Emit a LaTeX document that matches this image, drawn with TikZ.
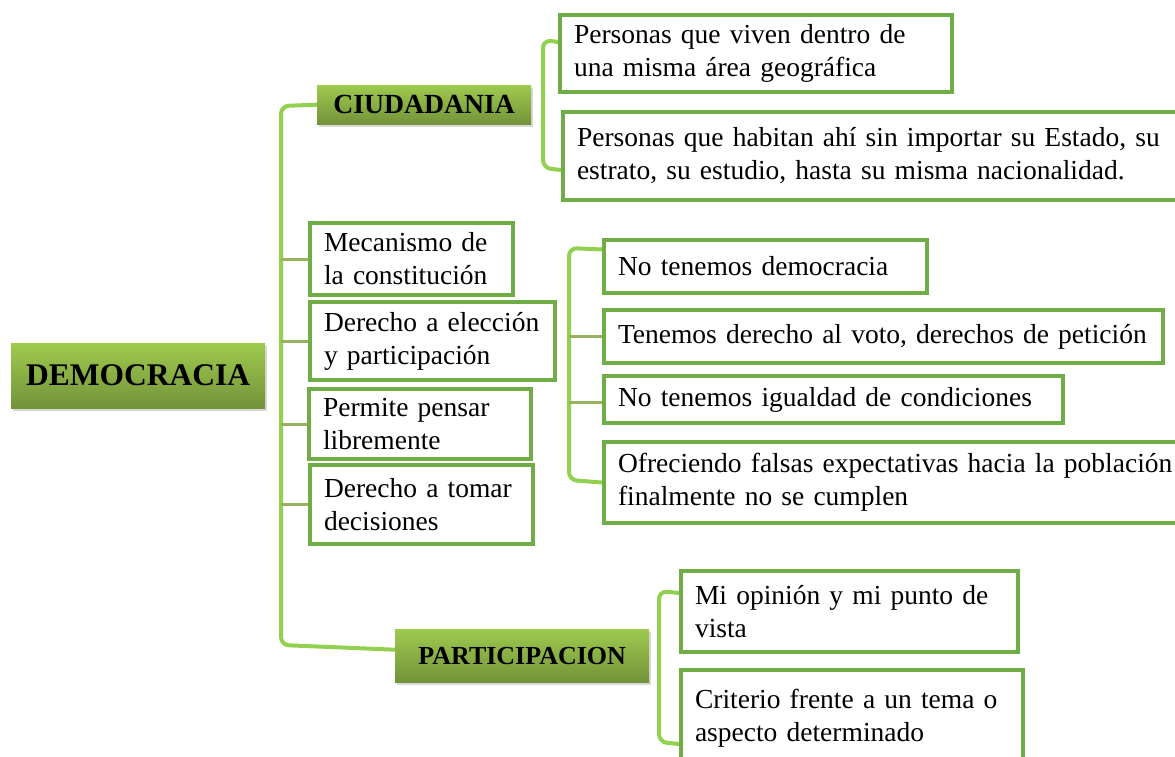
\documentclass[tikz,border=0pt]{standalone}
\usepackage{fontspec}
\setmainfont{Liberation Serif}
\usetikzlibrary{shadows}
\definecolor{boxgreen}{RGB}{112,173,71}
\definecolor{linegreen}{RGB}{146,208,80}
\definecolor{stubgreen}{RGB}{150,178,92}
\definecolor{gradtop}{RGB}{158,202,78}
\definecolor{gradbot}{RGB}{116,146,58}
\pgfdeclarelayer{background}
\pgfsetlayers{background,main}
\begin{document}
\begin{tikzpicture}[x=1pt,y=-1pt,
  txtbox/.style={draw=boxgreen,line width=4pt,fill=white,anchor=north west,
    inner xsep=14pt,inner ysep=0pt,align=left,
    font=\fontsize{27.5}{33}\selectfont},
  titlebox/.style={anchor=north west,inner sep=0pt,top color=gradtop,bottom color=gradbot,
    drop shadow={shadow xshift=2pt,shadow yshift=-3pt,opacity=0.3}},
  trunk/.style={draw=linegreen,line width=4pt,rounded corners=8pt},
  stub/.style={draw=stubgreen,line width=3pt}]
\useasboundingbox (0,0) rectangle (1175,757);
\clip (0,0) rectangle (1175,757);

% title boxes
\node[titlebox,minimum width=254pt,minimum height=65pt,font=\fontsize{31.5}{36}\selectfont\bfseries] (demo) at (11,343) {DEMOCRACIA};
\node[titlebox,minimum width=214pt,minimum height=39pt,font=\fontsize{27.7}{32}\selectfont\bfseries] (ciud) at (317,85) {CIUDADANIA};
\node[titlebox,minimum width=254pt,minimum height=53pt,font=\fontsize{26}{30}\selectfont\bfseries] (part) at (395,629) {PARTICIPACION};

% ciudadania children
\node[txtbox,text width=364pt,minimum height=77pt] (b1) at (558,13) {Personas que viven dentro de\\una misma área geográfica};
\node[txtbox,text width=596pt,minimum height=88pt] (b2) at (561,110) {Personas que habitan ahí sin importar su Estado, su\\estrato, su estudio, hasta su misma nacionalidad.};

% trunk children
\node[txtbox,text width=175pt,minimum height=72pt] (m1) at (308,221) {Mecanismo de\\la constitución};
\node[txtbox,text width=217pt,minimum height=78pt] (m2) at (308,300) {Derecho a elección\\y participación};
\node[txtbox,text width=194pt,minimum height=70pt] (m3) at (307,387) {Permite pensar\\libremente};
\node[txtbox,text width=195pt,minimum height=79pt] (m4) at (308,463) {Derecho a tomar\\decisiones};

% middle group
\node[txtbox,text width=295pt,minimum height=53pt] (n1) at (602,238) {No tenemos democracia};
\node[txtbox,text width=531pt,minimum height=53pt] (n2) at (602,308) {Tenemos derecho al voto, derechos de petición};
\node[txtbox,text width=431pt,minimum height=47pt] (n3) at (602,374) {No tenemos igualdad de condiciones};
\node[txtbox,text width=555pt,minimum height=81pt] (n4) at (602,440) {Ofreciendo falsas expectativas hacia la población\\finalmente no se cumplen};

% participacion children
\node[txtbox,text width=309pt,minimum height=81pt] (p1) at (679,569) {Mi opinión y mi punto de\\vista};
\node[txtbox,text width=314pt,minimum height=96pt] (p2) at (679,668) {Criterio frente a un tema o\\aspecto determinado};

\coordinate (tr) at (281,0);
\coordinate (br2) at (569,0);

\begin{pgfonlayer}{background}
  % main trunk
  \draw[trunk] (ciud.west) -- (281,106) -- (281,645) -- ([yshift=6pt]part.west);
  \draw[stub] (tr |- m1.west) -- (m1.west);
  \draw[stub] (tr |- m2.west) -- (m2.west);
  \draw[stub] (tr |- m3.west) -- (m3.west);
  \draw[stub] (tr |- m4.west) -- (m4.west);
  % ciudadania bracket
  \draw[trunk] ([yshift=11.5pt]b1.west) -- (543,40) -- (543,168) -- ([yshift=-14pt]b2.west);
  % middle bracket
  \draw[trunk] ([yshift=17pt]n1.west) -- (569,248) -- (569,480) -- (n4.west);
  \draw[stub] (br2 |- n2.west) -- (n2.west);
  \draw[stub] ([yshift=-3pt]br2 |- n3.west) -- ([yshift=-3pt]n3.west);
  % participacion bracket
  \draw[trunk] ([yshift=18.5pt]p1.west) -- (659,591) -- (659,742) -- ([yshift=-26pt]p2.west);
\end{pgfonlayer}
\end{tikzpicture}
\end{document}
